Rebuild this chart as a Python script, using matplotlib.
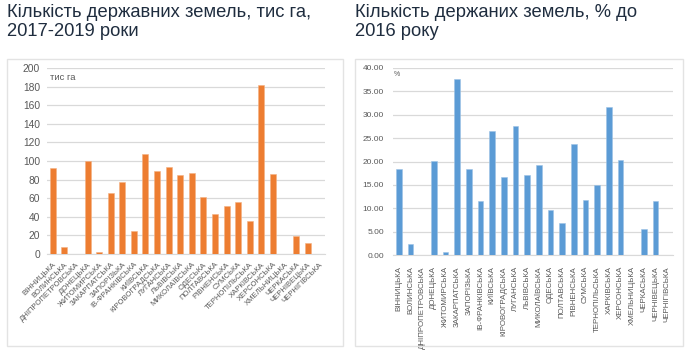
import matplotlib
matplotlib.use("Agg")
import matplotlib.pyplot as plt
from matplotlib.patches import Rectangle
import numpy as np

plt.rcParams['font.family'] = ['Liberation Sans', 'DejaVu Sans']

regions = ["ВІННИЦЬКА", "ВОЛИНСЬКА", "ДНІПРОПЕТРОВСЬКА", "ДОНЕЦЬКА", "ЖИТОМИРСЬКА",
           "ЗАКАРПАТСЬКА", "ЗАПОРІЗЬКА", "ІВ-ФРАНКІВСЬКА", "КИЇВСЬКА", "КІРОВОГРАДСЬКА",
           "ЛУГАНСЬКА", "ЛЬВІВСЬКА", "МИКОЛАЇВСЬКА", "ОДЕСЬКА", "ПОЛТАВСЬКА",
           "РІВНЕНСЬКА", "СУМСЬКА", "ТЕРНОПІЛЬСЬКА", "ХАРКІВСЬКА", "ХЕРСОНСЬКА",
           "ХМЕЛЬНИЦЬКА", "ЧЕРКАСЬКА", "ЧЕРНІВЕЦЬКА", "ЧЕРНІГІВСЬКА"]

thousand_ha = [93, 8, 0, 100, 2.5, 66, 77, 24.5, 107, 89,
               94, 85, 87, 61.5, 43.5, 51.5, 55.5, 36, 182, 86,
               0, 19, 12, 0]

pct_2016 = [18.4, 2.35, 0, 20.2, 0.65, 37.6, 18.3, 11.6, 26.6, 16.7,
            27.5, 17.2, 19.3, 9.7, 6.9, 23.75, 11.75, 15.0, 31.7, 20.4,
            0, 5.55, 11.5, 0]

left_title = "Кількість державних земель, тис га,\n2017-2019 роки"
right_title = "Кількість держаних земель, % до\n2016 року"

W, H = 690, 353
fig = plt.figure(figsize=(W / 100, H / 100), dpi=100)

def fx(px):
    return px / W

def fy(py):
    return 1 - py / H

# panel boxes
for x0, x1 in [(7, 343), (355, 683)]:
    fig.patches.append(Rectangle((fx(x0), fy(346)), fx(x1 - x0), (346 - 59) / H,
                                 transform=fig.transFigure, fill=False,
                                 edgecolor="#E3E3E3", linewidth=1.0))

title_color = "#1F2D3F"
fig.text(fx(7), fy(4), left_title, fontsize=13.2, color=title_color, va="top", ha="left",
         linespacing=1.12)
fig.text(fx(355), fy(4), right_title, fontsize=13.2, color=title_color, va="top", ha="left",
         linespacing=1.12)

grid_c = "#D9D9D9"
tick_c = "#595959"
x = np.arange(len(regions))

# Left chart
ax1 = fig.add_axes([fx(47), fy(254), fx(325 - 47), (254 - 68) / H])
ax1.bar(x, thousand_ha, width=0.52, color="#ED7D31", edgecolor="#F4B183", linewidth=0.4, zorder=3)
ax1.set_ylim(0, 200)
ax1.set_yticks(np.arange(0, 201, 20))
ax1.set_xlim(-0.5, len(regions) - 0.5)
ax1.set_xticks(x)
ax1.set_xticklabels(regions, rotation=45, ha="right", rotation_mode="anchor",
                    fontsize=5.5, color=tick_c)
ax1.tick_params(axis="y", labelsize=7.4, colors=tick_c, length=0, pad=5)
ax1.tick_params(axis="x", length=0, pad=5)
ax1.grid(axis="y", color=grid_c, linewidth=0.9, zorder=0)
for s in ["top", "right", "left"]:
    ax1.spines[s].set_visible(False)
ax1.spines["bottom"].set_color(grid_c)
ax1.text(fx(50), fy(78), "тис га", transform=fig.transFigure, fontsize=6.8, color=tick_c,
         va="center", ha="left")

# Right chart
ax2 = fig.add_axes([fx(393), fy(255), fx(673 - 393), (255 - 68) / H])
ax2.bar(x, pct_2016, width=0.48, color="#5B9BD5", edgecolor="#9DC3E6", linewidth=0.4, zorder=3)
ax2.set_ylim(0, 40)
ax2.set_yticks(np.arange(0, 40.1, 5))
ax2.set_yticklabels([f"{v:.2f}" for v in np.arange(0, 40.1, 5)])
ax2.set_xlim(-0.5, len(regions) - 0.5)
ax2.set_xticks(x)
ax2.set_xticklabels(regions, rotation=90, ha="center", va="top",
                    fontsize=5.7, color=tick_c)
ax2.tick_params(axis="y", labelsize=6, colors=tick_c, length=0, pad=6.5)
ax2.tick_params(axis="x", length=0, pad=8)
ax2.grid(axis="y", color=grid_c, linewidth=0.9, zorder=0)
for s in ["top", "right", "left"]:
    ax2.spines[s].set_visible(False)
ax2.spines["bottom"].set_color(grid_c)
ax2.text(fx(394), fy(74), "%", transform=fig.transFigure, fontsize=5, color=tick_c,
         va="center", ha="left")

fig.savefig("out.png", dpi=100)
